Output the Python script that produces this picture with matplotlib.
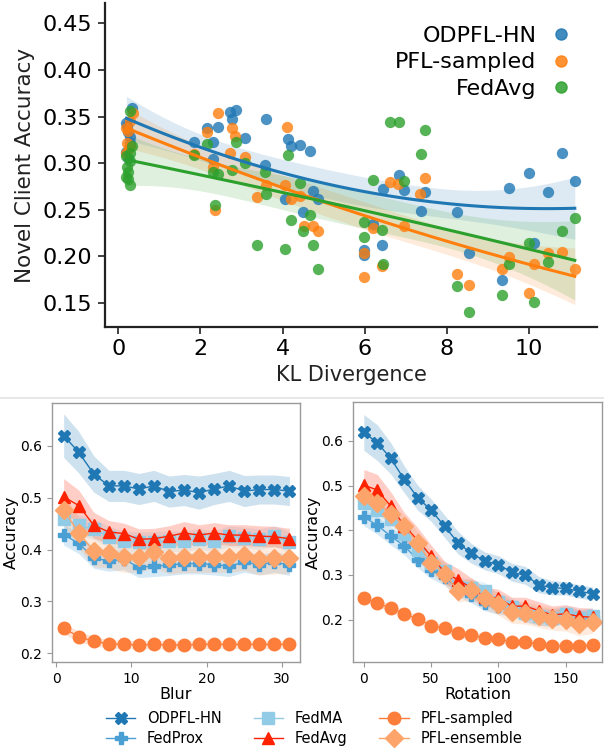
import numpy as np
import matplotlib
matplotlib.use("Agg")
import matplotlib.pyplot as plt
from matplotlib.lines import Line2D

# ---------------- Top panel data (KL divergence vs novel client accuracy) -------------
odpfl_kl = [0.33, 0.20, 0.22, 0.25, 0.30, 0.28, 0.20, 0.24,
            1.85, 2.17, 2.30, 2.44, 2.71, 2.86, 2.76, 3.08, 2.30, 3.60, 3.58,
            4.14, 4.21, 4.42, 4.66, 4.07, 4.49, 4.85, 4.73,
            5.97, 5.99, 6.20, 6.42, 6.44, 6.83, 6.95, 7.38, 7.47,
            8.25, 8.53, 9.34, 9.51, 10.0, 10.11, 10.45, 10.80, 11.11]
odpfl_acc = [0.359, 0.343, 0.340, 0.333, 0.328, 0.322, 0.312, 0.306,
             0.323, 0.3375, 0.323, 0.339, 0.355, 0.357, 0.347, 0.327, 0.304, 0.3475, 0.2975,
             0.326, 0.318, 0.319, 0.3135, 0.261, 0.248, 0.261, 0.270,
             0.207, 0.201, 0.235, 0.2125, 0.272, 0.2875, 0.271, 0.249, 0.2685,
             0.2475, 0.203, 0.175, 0.273, 0.289, 0.214, 0.269, 0.311, 0.281]

pfls_kl = [0.35, 0.30, 0.20, 0.25, 0.22, 0.30, 0.27, 0.20,
           1.85, 2.43, 2.17, 2.76, 2.85, 2.72, 3.08, 2.36, 2.30, 3.39, 3.60,
           4.12, 4.07, 4.21, 4.42, 4.52, 4.73, 4.86,
           5.97, 5.99, 6.20, 6.42, 6.61, 6.80, 6.95, 7.35, 7.47,
           8.25, 8.53, 9.34, 9.51, 10.0, 10.11, 10.45, 10.80, 11.11]
pfls_acc = [0.354, 0.345, 0.338, 0.335, 0.322, 0.318, 0.316, 0.311,
            0.310, 0.3535, 0.333, 0.338, 0.329, 0.311, 0.307, 0.250, 0.296, 0.2635, 0.276,
            0.339, 0.277, 0.261, 0.265, 0.232, 0.232, 0.227,
            0.178, 0.2035, 0.230, 0.190, 0.2795, 0.2775, 0.233, 0.267, 0.284,
            0.181, 0.169, 0.186, 0.199, 0.161, 0.192, 0.2035, 0.205, 0.186]

fedavg_kl = [0.30, 0.33, 0.30, 0.20, 0.28, 0.22, 0.25, 0.20, 0.25, 0.30,
             1.85, 2.17, 2.30, 2.44, 2.36, 2.76, 2.86, 3.08, 3.39, 3.60, 3.58,
             4.07, 4.14, 4.21, 4.42, 4.50, 4.66, 4.75, 4.86,
             5.97, 5.99, 6.20, 6.42, 6.44, 6.61, 6.83, 6.95, 7.36, 7.47,
             8.25, 8.53, 9.34, 9.51, 10.0, 10.11, 10.45, 10.80, 11.11]
fedavg_acc = [0.356, 0.318, 0.311, 0.308, 0.302, 0.296, 0.290, 0.285, 0.283, 0.276,
              0.309, 0.321, 0.291, 0.2885, 0.255, 0.293, 0.323, 0.300, 0.2125, 0.267, 0.291,
              0.208, 0.309, 0.239, 0.2785, 0.227, 0.2445, 0.2125, 0.186,
              0.2205, 0.2365, 0.282, 0.2285, 0.192, 0.344, 0.344, 0.281, 0.3095, 0.336,
              0.1685, 0.140, 0.158, 0.192, 0.214, 0.151, 0.194, 0.2275, 0.241]

top_series = ["ODPFL-HN", "PFL-sampled", "FedAvg"]
top_colors = ["#1f77b4", "#ff7f0e", "#2ca02c"]

# ---------------- Bottom panels data -------------
methods = ["ODPFL-HN", "FedProx", "FedMA", "FedAvg", "PFL-sampled", "PFL-ensemble"]
colors = ["#1f77b4", "#4a9fd4", "#92cbe6", "#ff2200", "#fd7d3a", "#fda46a"]
markers = ["X", "P", "s", "^", "o", "D"]

blur = [1, 3, 5, 7, 9, 11, 13, 15, 17, 19, 21, 23, 25, 27, 29, 31]
blur_mean = {
    "ODPFL-HN": [0.620, 0.588, 0.546, 0.523, 0.523, 0.517, 0.523, 0.512, 0.515, 0.510, 0.517, 0.523, 0.513, 0.516, 0.516, 0.513],
    "FedProx": [0.429, 0.412, 0.384, 0.378, 0.381, 0.366, 0.368, 0.370, 0.373, 0.373, 0.371, 0.368, 0.376, 0.371, 0.376, 0.370],
    "FedMA": [0.460, 0.447, 0.439, 0.425, 0.416, 0.414, 0.415, 0.416, 0.416, 0.421, 0.416, 0.426, 0.423, 0.420, 0.426, 0.415],
    "FedAvg": [0.502, 0.485, 0.447, 0.434, 0.431, 0.420, 0.421, 0.426, 0.432, 0.428, 0.432, 0.428, 0.428, 0.426, 0.425, 0.421],
    "PFL-sampled": [0.248, 0.232, 0.223, 0.218, 0.217, 0.216, 0.217, 0.216, 0.216, 0.217, 0.217, 0.217, 0.217, 0.217, 0.217, 0.217],
    "PFL-ensemble": [0.477, 0.432, 0.397, 0.394, 0.386, 0.386, 0.395, 0.383, 0.386, 0.386, 0.386, 0.386, 0.390, 0.381, 0.383, 0.384],
}
blur_err = {
    "ODPFL-HN": [0.042, 0.040, 0.035, 0.030, 0.030, 0.030, 0.030, 0.030, 0.030, 0.032, 0.030, 0.030, 0.030, 0.028, 0.028, 0.028],
    "FedProx": [0.020, 0.020, 0.020, 0.020, 0.020, 0.020, 0.020, 0.020, 0.020, 0.020, 0.020, 0.020, 0.020, 0.020, 0.020, 0.020],
    "FedMA": [0.020, 0.020, 0.020, 0.020, 0.020, 0.020, 0.020, 0.020, 0.020, 0.020, 0.020, 0.020, 0.020, 0.020, 0.020, 0.020],
    "FedAvg": [0.035, 0.030, 0.025, 0.022, 0.020, 0.020, 0.020, 0.020, 0.022, 0.020, 0.020, 0.020, 0.020, 0.020, 0.020, 0.020],
    "PFL-sampled": [0.010, 0.010, 0.009, 0.008, 0.008, 0.008, 0.008, 0.008, 0.008, 0.008, 0.008, 0.008, 0.008, 0.008, 0.008, 0.008],
    "PFL-ensemble": [0.030, 0.030, 0.030, 0.030, 0.030, 0.030, 0.030, 0.030, 0.030, 0.030, 0.030, 0.030, 0.030, 0.030, 0.030, 0.030],
}

rotation = [0, 10, 20, 30, 40, 50, 60, 70, 80, 90, 100, 110, 120, 130, 140, 150, 160, 170]
rot_mean = {
    "ODPFL-HN": [0.619, 0.596, 0.561, 0.514, 0.473, 0.445, 0.409, 0.372, 0.348, 0.331, 0.323, 0.306, 0.299, 0.278, 0.271, 0.270, 0.263, 0.258],
    "FedProx": [0.430, 0.411, 0.387, 0.365, 0.334, 0.310, 0.295, 0.270, 0.255, 0.2375, 0.230, 0.226, 0.213, 0.205, 0.203, 0.209, 0.203, 0.203],
    "FedMA": [0.461, 0.446, 0.426, 0.392, 0.355, 0.327, 0.309, 0.273, 0.271, 0.263, 0.239, 0.228, 0.215, 0.2075, 0.204, 0.213, 0.203, 0.2075],
    "FedAvg": [0.501, 0.490, 0.454, 0.410, 0.378, 0.342, 0.306, 0.289, 0.271, 0.250, 0.248, 0.230, 0.230, 0.220, 0.2105, 0.213, 0.207, 0.205],
    "PFL-sampled": [0.248, 0.237, 0.2255, 0.213, 0.2015, 0.1865, 0.1805, 0.169, 0.1655, 0.159, 0.1565, 0.1505, 0.149, 0.1455, 0.1415, 0.1415, 0.140, 0.143],
    "PFL-ensemble": [0.477, 0.461, 0.437, 0.409, 0.372, 0.327, 0.303, 0.265, 0.267, 0.249, 0.235, 0.2165, 0.215, 0.2075, 0.2015, 0.199, 0.189, 0.194],
}
rot_err = {
    "ODPFL-HN": [0.040, 0.040, 0.035, 0.030, 0.028, 0.025, 0.025, 0.025, 0.022, 0.020, 0.020, 0.020, 0.020, 0.018, 0.016, 0.015, 0.015, 0.015],
    "FedProx": [0.020, 0.020, 0.020, 0.020, 0.018, 0.018, 0.018, 0.018, 0.018, 0.018, 0.018, 0.018, 0.018, 0.018, 0.018, 0.018, 0.018, 0.018],
    "FedMA": [0.020, 0.020, 0.020, 0.020, 0.020, 0.020, 0.020, 0.020, 0.020, 0.020, 0.020, 0.020, 0.020, 0.020, 0.020, 0.020, 0.020, 0.020],
    "FedAvg": [0.035, 0.035, 0.032, 0.030, 0.028, 0.025, 0.025, 0.025, 0.022, 0.022, 0.020, 0.020, 0.020, 0.020, 0.020, 0.020, 0.020, 0.020],
    "PFL-sampled": [0.008, 0.008, 0.008, 0.008, 0.008, 0.008, 0.008, 0.008, 0.008, 0.008, 0.008, 0.008, 0.008, 0.008, 0.008, 0.008, 0.008, 0.008],
    "PFL-ensemble": [0.025, 0.025, 0.025, 0.025, 0.025, 0.025, 0.025, 0.025, 0.025, 0.025, 0.025, 0.025, 0.025, 0.025, 0.025, 0.025, 0.025, 0.025],
}

plt.rcParams['font.family'] = ['DejaVu Sans']

fig = plt.figure(figsize=(6.04, 7.5), dpi=100)

# ---------------- Top panel -------------
ax = fig.add_axes([105 / 604, 1 - 327 / 750, 492 / 604, 324 / 750])


def quad_fit(x, y, xs):
    x = np.asarray(x, float)
    y = np.asarray(y, float)
    X = np.vstack([np.ones_like(x), x, x ** 2]).T
    beta, *_ = np.linalg.lstsq(X, y, rcond=None)
    resid = y - X @ beta
    dof = len(x) - 3
    s2 = resid @ resid / dof
    cov = s2 * np.linalg.inv(X.T @ X)
    Xs = np.vstack([np.ones_like(xs), xs, xs ** 2]).T
    yh = Xs @ beta
    se = np.sqrt(np.einsum('ij,jk,ik->i', Xs, cov, Xs))
    return yh, 2.02 * se


top_x = [odpfl_kl, pfls_kl, fedavg_kl]
top_y = [odpfl_acc, pfls_acc, fedavg_acc]
for name, xs_, ys_, c in zip(top_series, top_x, top_y, top_colors):
    ax.scatter(xs_, ys_, s=66, color=c, alpha=0.8, linewidths=0, label=name, zorder=2)
for name, xs_, ys_, c in zip(top_series, top_x, top_y, top_colors):
    grid = np.linspace(min(xs_), max(xs_), 100)
    yh, ci = quad_fit(xs_, ys_, grid)
    ax.fill_between(grid, yh - ci, yh + ci, color=c, alpha=0.15, linewidth=0, zorder=1)
    ax.plot(grid, yh, color=c, lw=2.2, zorder=3)

ax.set_xlim(-0.32, 11.65)
ax.set_ylim(0.124, 0.472)
ax.set_xticks([0, 2, 4, 6, 8, 10])
ax.set_yticks([0.15, 0.20, 0.25, 0.30, 0.35, 0.40, 0.45])
ax.set_yticklabels(["0.15", "0.20", "0.25", "0.30", "0.35", "0.40", "0.45"])
ax.tick_params(labelsize=16, length=5, width=1.3, color='#333333', pad=4)
for side in ["top", "right"]:
    ax.spines[side].set_visible(False)
for side in ["left", "bottom"]:
    ax.spines[side].set_linewidth(1.6)
    ax.spines[side].set_color('#222222')
ax.set_xlabel("KL Divergence", fontsize=15, color='#222222', labelpad=4)
ax.set_ylabel("Novel Client Accuracy", fontsize=15.5, color='#222222', labelpad=6)
handles = [Line2D([], [], ls='', marker='o', ms=8, color=c, alpha=0.85) for c in top_colors]
ax.legend(handles, top_series, loc='upper right', bbox_to_anchor=(0.976, 0.978),
          markerfirst=False, frameon=False, fontsize=16, handlelength=0.8,
          handletextpad=0.7, labelspacing=0.3, borderaxespad=0.3)

# separator line
fig.add_artist(Line2D([0.0, 1.0], [1 - 398 / 750, 1 - 398 / 750], transform=fig.transFigure,
                      color='#e3e3e3', lw=1.2))

# ---------------- Bottom panels -------------
axb = fig.add_axes([52 / 604, 1 - 662 / 750, 248 / 604, 259 / 750])
axr = fig.add_axes([353 / 604, 1 - 662 / 750, 249 / 604, 260 / 750])

for a, xv, means, errs in [(axb, blur, blur_mean, blur_err), (axr, rotation, rot_mean, rot_err)]:
    for m, c, mk in zip(methods, colors, markers):
        mu = np.array(means[m])
        e = np.array(errs[m])
        a.fill_between(xv, mu - e, mu + e, color=c, alpha=0.22, linewidth=0)
        a.plot(xv, mu, color=c, marker=mk, ms=9, lw=1.0, label=m)
    for s in a.spines.values():
        s.set_color('#9a9a9a')
        s.set_linewidth(1.0)
    a.tick_params(labelsize=10, color='#9a9a9a', length=3.5)
    a.set_ylabel("Accuracy", fontsize=11.5)

axb.yaxis.set_label_coords(-0.133, 0.5)
axr.yaxis.set_label_coords(-0.128, 0.5)

axb.set_xlim(-0.55, 32.4)
axb.set_ylim(0.183, 0.683)
axb.set_xticks([0, 10, 20, 30])
axb.set_yticks([0.2, 0.3, 0.4, 0.5, 0.6])
axb.set_xlabel("Blur", fontsize=11.5, labelpad=1)

axr.set_xlim(-8, 177)
axr.set_ylim(0.105, 0.687)
axr.set_xticks([0, 50, 100, 150])
axr.set_yticks([0.2, 0.3, 0.4, 0.5, 0.6])
axr.set_xlabel("Rotation", fontsize=11.5, labelpad=1)

hl, lb = axb.get_legend_handles_labels()
fig.legend(hl, lb, loc='lower center', bbox_to_anchor=(0.52, -0.012), ncol=3,
           frameon=False, fontsize=10.5, handlelength=2.0, columnspacing=2.2,
           labelspacing=0.32, handletextpad=0.8)

fig.savefig("out.png", dpi=100)
